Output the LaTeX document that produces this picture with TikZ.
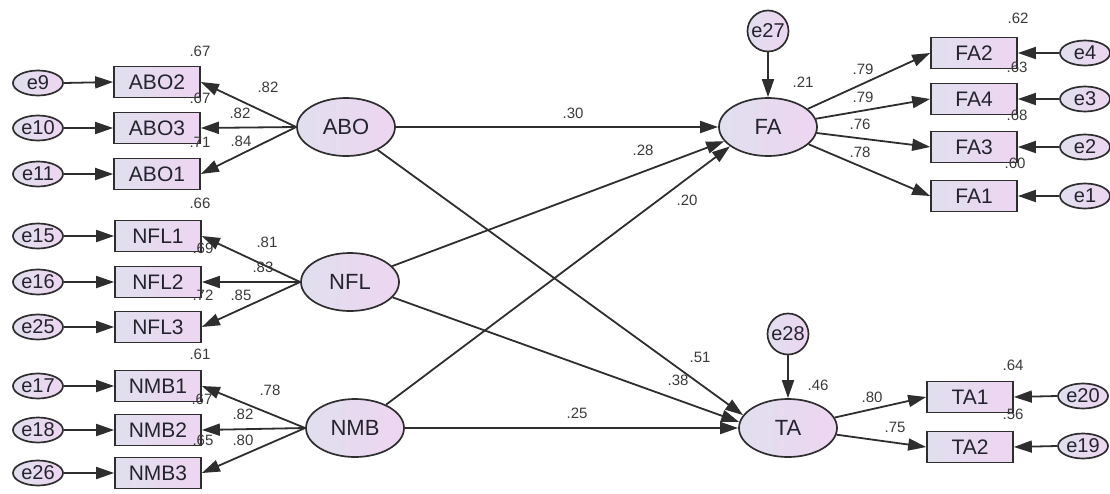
\documentclass[tikz,border=0pt]{standalone}
\usepackage{fontspec}
\setmainfont{Liberation Sans}
\usetikzlibrary{arrows.meta,shapes.geometric}

\definecolor{edgegray}{HTML}{2E2E2E}
\definecolor{fillL}{HTML}{E0DFEE}
\definecolor{fillR}{HTML}{EED5F1}
\definecolor{inktext}{HTML}{24242E}
\definecolor{coeftext}{HTML}{3A3A3A}

\begin{document}
\begin{tikzpicture}[x=1pt,y=-1pt,
  every node/.style={inner sep=0pt},
  shaded/.style={draw=edgegray,line width=1.7pt,left color=fillL,right color=fillR,text=inktext},
  latent/.style={shaded,ellipse,minimum width=98pt,minimum height=58pt,font=\fontsize{22}{25}\selectfont},
  obs/.style={shaded,rectangle,minimum width=86pt,minimum height=31pt,font=\fontsize{21}{24}\selectfont},
  err/.style={shaded,ellipse,minimum width=50pt,minimum height=25pt,font=\fontsize{20}{22}\selectfont},
  errc/.style={shaded,circle,minimum size=41pt,font=\fontsize{20}{22}\selectfont},
  coef/.style={font=\fontsize{15}{17}\selectfont,text=coeftext},
  arr/.style={draw=edgegray,line width=1.8pt,-{Triangle[length=18pt,width=12pt]}}
]
\useasboundingbox (0,0) rectangle (1110,493);

% exogenous latent variables and their indicators
\node[latent] (ABO) at (346,127) {ABO};
\node[latent] (NFL) at (350,282) {NFL};
\node[latent] (NMB) at (355,428) {NMB};

\node[obs] (ABO2) at (157,82) {ABO2};
\node[obs] (ABO3) at (157,128) {ABO3};
\node[obs] (ABO1) at (157,174) {ABO1};
\node[obs] (NFL1) at (158,236) {NFL1};
\node[obs] (NFL2) at (158,282) {NFL2};
\node[obs] (NFL3) at (158,327) {NFL3};
\node[obs] (NMB1) at (158,386) {NMB1};
\node[obs] (NMB2) at (158,430) {NMB2};
\node[obs] (NMB3) at (158,473) {NMB3};

\node[err] (e9)  at (38,83)  {e9};
\node[err] (e10) at (38,128) {e10};
\node[err] (e11) at (38,174) {e11};
\node[err] (e15) at (38,236) {e15};
\node[err] (e16) at (38,282) {e16};
\node[err] (e25) at (38,327) {e25};
\node[err] (e17) at (38,386) {e17};
\node[err] (e18) at (38,430) {e18};
\node[err] (e26) at (38,473) {e26};

% endogenous latent variables and their indicators
\node[latent] (FA) at (768,127) {FA};
\node[latent] (TA) at (788,428) {TA};
\node[errc] (e27) at (768,31) {e27};
\node[errc] (e28) at (788,334) {e28};

\node[obs] (FA2) at (974,53)  {FA2};
\node[obs] (FA4) at (974,99)  {FA4};
\node[obs] (FA3) at (974,147) {FA3};
\node[obs] (FA1) at (974,196) {FA1};
\node[obs] (TA1) at (970,397) {TA1};
\node[obs] (TA2) at (970,447) {TA2};

\node[err] (e4)  at (1085,53)  {e4};
\node[err] (e3)  at (1085,99)  {e3};
\node[err] (e2)  at (1085,147) {e2};
\node[err] (e1)  at (1085,196) {e1};
\node[err] (e20) at (1083,396) {e20};
\node[err] (e19) at (1083,446) {e19};

% measurement errors
\foreach \e/\v in {e9/ABO2,e10/ABO3,e11/ABO1,e15/NFL1,e16/NFL2,e25/NFL3,e17/NMB1,e18/NMB2,e26/NMB3}
  \draw[arr] (\e.east) -- (\v.west);
\foreach \e/\v in {e4/FA2,e3/FA4,e2/FA3,e1/FA1,e20/TA1,e19/TA2}
  \draw[arr] (\e.west) -- (\v.east);
\draw[arr] (e27) -- (FA);
\draw[arr] (e28) -- (TA);

% loadings
\foreach \v in {ABO2,ABO3,ABO1} \draw[arr] (ABO.west) -- (\v.east);
\foreach \v in {NFL1,NFL2,NFL3} \draw[arr] (NFL.west) -- (\v.east);
\foreach \v in {NMB1,NMB2,NMB3} \draw[arr] (NMB.west) -- (\v.east);
\foreach \v in {FA2,FA4,FA3,FA1} \draw[arr] (FA) -- (\v.west);
\foreach \v in {TA1,TA2} \draw[arr] (TA) -- (\v.west);

% structural paths
\draw[arr] (ABO.east) -- (FA.west);
\draw[arr] (ABO) -- (TA.164);
\draw[arr] (NFL) -- (FA.198);
\draw[arr] (NFL) -- (TA.173);
\draw[arr] (NMB) -- (FA.207);
\draw[arr] (NMB.east) -- (TA.west);

% estimates
\node[coef] (r1)  at (200,51)  {.67};
\node[coef] (r2)  at (200,98)  {.67};
\node[coef] (r3)  at (200,142) {.71};
\node[coef] (l1)  at (268,87)  {.82};
\node[coef] (l2)  at (240,113) {.82};
\node[coef] (l3)  at (241,141) {.84};

\node[coef] (r4)  at (200,203) {.66};
\node[coef] (r5)  at (203,248) {.69};
\node[coef] (r6)  at (203,295) {.72};
\node[coef] (l4)  at (267,242) {.81};
\node[coef] (l5)  at (263,267) {.83};
\node[coef] (l6)  at (241,295) {.85};

\node[coef] (r7)  at (200,354) {.61};
\node[coef] (r8)  at (202,399) {.67};
\node[coef] (r9)  at (203,440) {.65};
\node[coef] (l7)  at (270,390) {.78};
\node[coef] (l8)  at (243,414) {.82};
\node[coef] (l9)  at (243,440) {.80};

\node[coef] (b1)  at (573,113) {.30};
\node[coef] (b2)  at (643,150) {.28};
\node[coef] (b3)  at (687,200) {.20};
\node[coef] (b4)  at (700,357) {.51};
\node[coef] (b5)  at (678,380) {.38};
\node[coef] (b6)  at (577,413) {.25};

\node[coef] (s1)  at (803,82)  {.21};
\node[coef] (s2)  at (818,385) {.46};

\node[coef] (r10) at (1018,18)  {.62};
\node[coef] (r11) at (1017,67)  {.63};
\node[coef] (r12) at (1017,115) {.68};
\node[coef] (r13) at (1015,163) {.60};
\node[coef] (l10) at (863,69)  {.79};
\node[coef] (l11) at (863,97)  {.79};
\node[coef] (l12) at (860,124) {.76};
\node[coef] (l13) at (860,152) {.78};

\node[coef] (r14) at (1013,365) {.64};
\node[coef] (r15) at (1013,414) {.56};
\node[coef] (l14) at (872,397) {.80};
\node[coef] (l15) at (895,427) {.75};
\end{tikzpicture}
\end{document}
